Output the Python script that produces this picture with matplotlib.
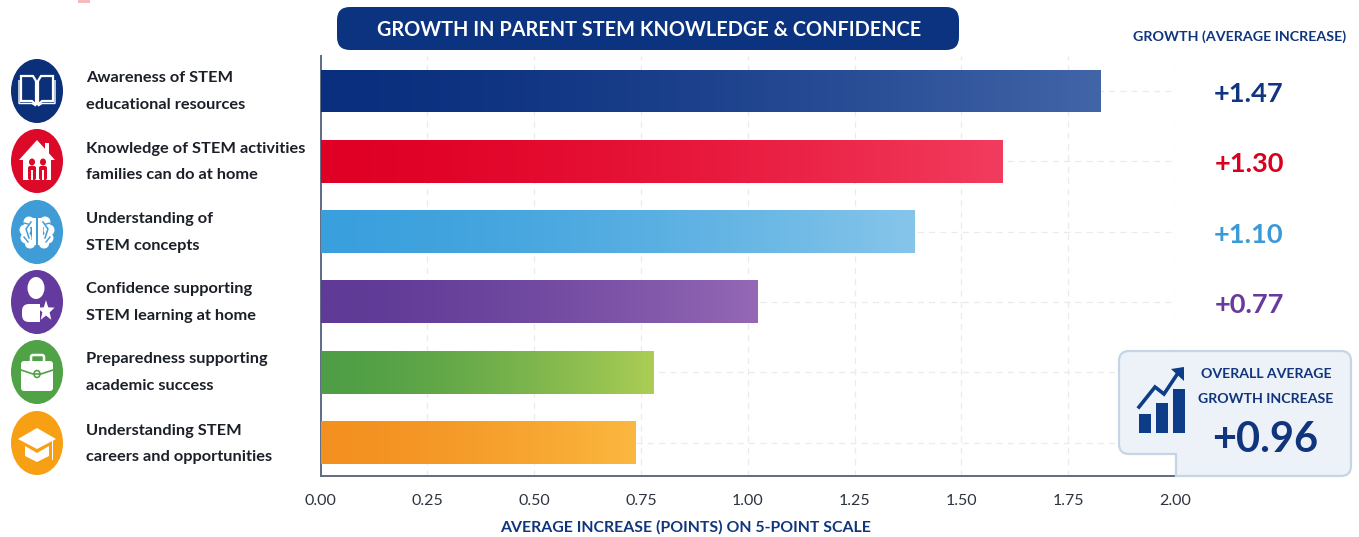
import numpy as np
import matplotlib
matplotlib.use("Agg")
import matplotlib.pyplot as plt
from matplotlib.patches import Ellipse, FancyBboxPatch, Polygon, PathPatch, Rectangle
from matplotlib.path import Path
from matplotlib.colors import LinearSegmentedColormap

categories = ["Awareness of STEM\neducational resources",
              "Knowledge of STEM activities\nfamilies can do at home",
              "Understanding of\nSTEM concepts",
              "Confidence supporting\nSTEM learning at home",
              "Preparedness supporting\nacademic success",
              "Understanding STEM\ncareers and opportunities"]
bar_values = [1.825, 1.595, 1.39, 1.022, 0.778, 0.736]
growth_labels = ["+1.47", "+1.30", "+1.10", "+0.77"]
color_start = ["#0a2f7e", "#e00025", "#3aa0dd", "#5f3a96", "#4f9e45", "#f39020"]
color_end = ["#4265a8", "#f23c5e", "#86c5ea", "#9468b5", "#abcd55", "#fbb840"]
icon_colors = ["#0b3079", "#dc0a28", "#3f9cd6", "#643a9e", "#50a246", "#f7a013"]
label_colors = ["#11357f", "#d9001f", "#3a9ad8", "#673a9c"]
x_ticks = [0, .25, .5, .75, 1, 1.25, 1.5, 1.75, 2]
NAVY = "#10357c"
W, H = 1359, 537

plt.rcParams["font.family"] = ["Lato"]
fig = plt.figure(figsize=(W/100, H/100), dpi=100, facecolor="white")
ax = fig.add_axes([320.5/W, 1-476/H, (1175-320.5)/W, (476-56)/H])
YLIM = (5.476, -0.498)
ax.patch.set_alpha(0)
bars = ax.barh(range(6), bar_values, height=0.61, color="none", zorder=3)
for i, b in enumerate(bars):
    cmap = LinearSegmentedColormap.from_list("g", [color_start[i], color_end[i]])
    im = ax.imshow(np.linspace(0, 1, 256)[None, :]**1.5, cmap=cmap, aspect="auto", zorder=3,
                   extent=[0, b.get_width(), b.get_y()+b.get_height(), b.get_y()])
    im.set_clip_path(b)
ax.set_xlim(0, 2)
ax.set_ylim(*YLIM)
for s in ["top", "right"]:
    ax.spines[s].set_visible(False)
for s in ["left", "bottom"]:
    ax.spines[s].set_color("#5d6b85")
    ax.spines[s].set_linewidth(1.4)
ax.set_axisbelow(True)
ax.set_xticks(x_ticks)
ax.set_xticklabels([f"{t:.2f}" for t in x_ticks], fontsize=11.5, color="#2d3440")
ax.tick_params(axis="x", length=0, pad=13)
ax.set_yticks(range(6))
ax.set_yticklabels([])
ax.tick_params(axis="y", length=0)
ax.xaxis.grid(True, color="#e9ebee", ls=(0, (5, 4)), lw=0.9)
ax.yaxis.grid(True, color="#e9ebee", ls=(0, (5, 4)), lw=0.9)
ax.set_xlabel("AVERAGE INCREASE (POINTS) ON 5-POINT SCALE", fontsize=11.4, fontweight="bold",
              color=NAVY, labelpad=9, x=0.427)

ov = fig.add_axes([0, 0, 1, 1], zorder=5)
ov.set_xlim(0, W); ov.set_ylim(H, 0); ov.axis("off"); ov.patch.set_alpha(0)

ov.add_patch(Rectangle((78, 0), 12, 2.5, color="#f6b9bd", lw=0))

ov.add_patch(FancyBboxPatch((337, 7), 622, 43, boxstyle="round,pad=0,rounding_size=13", fc="#0b3380", ec="none"))
ov.text(649, 29.5, "GROWTH IN PARENT STEM KNOWLEDGE & CONFIDENCE", color="white", fontsize=14.3,
        fontweight="bold", ha="center", va="center")
ov.text(1240, 37, "GROWTH (AVERAGE INCREASE)", color=NAVY, fontsize=10.3, fontweight="bold", ha="center", va="center")

row_y = [91, 161, 232, 302, 372, 443]
for y, cat, col in zip(row_y, categories, icon_colors):
    ov.add_patch(Ellipse((37, y), 52, 64, fc=col, ec="none"))
    l1, l2 = cat.split("\n")
    ov.text(86, y-12.5, l1, fontsize=11.8, fontweight="bold", color="#1b1f27", va="center")
    ov.text(86, y+14, l2, fontsize=11.8, fontweight="bold", color="#1b1f27", va="center")

for y, t, c in zip(row_y[:4], growth_labels, label_colors):
    ov.text(1249, y+3, t, fontsize=19.6, fontweight="bold", color=c, ha="center", va="center")

WHITE = "white"
y = 91
for s in (-1, 1):
    ov.add_patch(Polygon([(37+s*1, y-10), (37+s*4, y-15), (37+s*16, y-15), (37+s*16, y+10), (37+s*5, y+10), (37+s*1, y+14)],
                         fc="none", ec=WHITE, lw=1.6))
    ov.add_patch(Polygon([(37+s*1, y+15), (37+s*5, y+12.5), (37+s*18, y+12.5), (37+s*18, y-11)], fc="none", ec=WHITE, lw=1.0, closed=False))
y = 161
ov.add_patch(Polygon([(19, y-1), (37, y-21), (55, y-1), (51, y-1), (51, y+19), (23, y+19), (23, y-1)], fc=WHITE, ec="none"))
ov.add_patch(Rectangle((45, y-18), 4, 10, fc=WHITE, ec="none"))
for dx in (-5, 6):
    ov.add_patch(Ellipse((37+dx, y+1), 6, 7, fc=icon_colors[1], ec="none"))
    ov.add_patch(FancyBboxPatch((37+dx-4, y+5), 8, 14, boxstyle="round,pad=0,rounding_size=2", fc=icon_colors[1], ec="none"))
    ov.add_patch(Rectangle((37+dx-0.7, y+9), 1.4, 10, fc=WHITE, ec="none"))
y = 232
for s in (-1, 1):
    for dx, dy, a, b in [(8, -10, 11, 11), (12, -2, 11, 11), (11, 6, 11, 11), (7, 12, 10, 9)]:
        ov.add_patch(Ellipse((37+s*dx, y+dy), a, b, fc=WHITE, ec="none"))
    ov.add_patch(Rectangle((37+s*3-2.5, y-14), 5, 27, fc=WHITE, ec="none"))
    ov.plot([37+s*6, 37+s*11, 37+s*8], [y-10, y-3, y+6], color=icon_colors[2], lw=1.1)
    ov.plot([37+s*13, 37+s*9], [y-9, y-8], color=icon_colors[2], lw=1.0)
    ov.plot([37+s*13, 37+s*9], [y+5, y+10], color=icon_colors[2], lw=1.0)
ov.add_patch(Rectangle((36.3, y-16), 1.4, 33, fc=icon_colors[2], ec="none"))
y = 302
ov.add_patch(Ellipse((36, y-14), 17, 22, fc=WHITE, ec="none"))
ov.add_patch(FancyBboxPatch((22, y+2), 26, 18, boxstyle="round,pad=0,rounding_size=7", fc=WHITE, ec="none"))
ov.add_patch(Rectangle((40, y+1), 13, 20, fc=icon_colors[3], ec="none"))
ang = np.deg2rad(np.arange(0, 360, 36) - 90)
rad = np.array([9, 3.8] * 5)
ov.add_patch(Polygon(np.c_[46 + rad*np.cos(ang), y+9 + 1.2*rad*np.sin(ang)], fc=WHITE, ec="none"))
y = 372
ov.add_patch(FancyBboxPatch((31, y-17), 13, 9, boxstyle="round,pad=0,rounding_size=2", fc="none", ec=WHITE, lw=1.8))
ov.add_patch(FancyBboxPatch((21, y-11), 32, 30, boxstyle="round,pad=0,rounding_size=3", fc=WHITE, ec="none"))
ov.plot([21, 33, 41, 53], [y-2, y+2, y+2, y-2], color=icon_colors[4], lw=1.2)
ov.add_patch(Ellipse((37, y+2), 6, 7, fc=WHITE, ec=icon_colors[4], lw=1.2))
y = 443
ov.add_patch(Polygon([(18, y-4), (37, y-15), (56, y-4), (37, y+6)], fc=WHITE, ec="none"))
ov.add_patch(Polygon([(25, y+3), (37, y+10), (49, y+3), (49, y+13), (37, y+19), (25, y+13)], fc=WHITE, ec="none"))
ov.add_patch(Rectangle((52, y-3), 1.4, 20, fc=WHITE, ec="none"))

L, T, R, B, NX, NY, r = 1119, 351, 1351, 476, 1176, 454, 10
codes = [Path.MOVETO, Path.LINETO, Path.CURVE3, Path.CURVE3, Path.LINETO, Path.CURVE3, Path.CURVE3,
         Path.LINETO, Path.LINETO, Path.LINETO, Path.LINETO, Path.CURVE3, Path.CURVE3, Path.LINETO,
         Path.CURVE3, Path.CURVE3, Path.CLOSEPOLY]
verts = [(L+r, T), (R-r, T), (R, T), (R, T+r), (R, B-r), (R, B), (R-r, B), (NX+4, B), (NX, B),
         (NX, NY), (L+r, NY), (L, NY), (L, NY-r), (L, T+r), (L, T), (L+r, T), (L+r, T)]
ov.add_patch(PathPatch(Path(verts, codes), fc="#edf2f9", ec="#c5d5e6", lw=1.6))
ov.text(1266, 374, "OVERALL AVERAGE", fontsize=10.2, fontweight="bold", color=NAVY, ha="center", va="center")
ov.text(1266, 399, "GROWTH INCREASE", fontsize=10.2, fontweight="bold", color=NAVY, ha="center", va="center")
ov.text(1265, 440, "+0.96", fontsize=30, fontweight="bold", color=NAVY, ha="center", va="center")
for x0, top in [(1139, 414), (1156, 403), (1173, 389)]:
    ov.add_patch(Rectangle((x0, top), 12, 433-top, fc="#0e3d87", ec="none"))
ov.plot([1139, 1155, 1164, 1178], [407, 387, 394, 373], color="#0e3d87", lw=2.6, solid_joinstyle="miter")
ov.add_patch(Polygon([(1171, 369), (1184, 367), (1184, 381)], fc="#0e3d87", ec="none"))

fig.savefig("out.png", dpi=100)
